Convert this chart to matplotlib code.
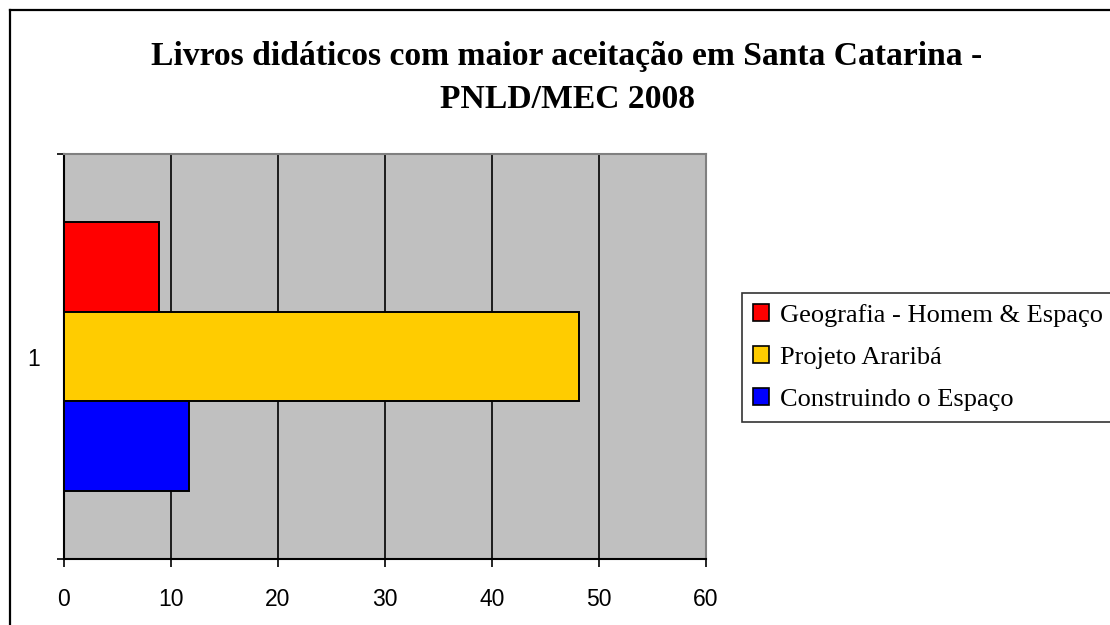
import numpy as np
import matplotlib
matplotlib.use('Agg')
import matplotlib.pyplot as plt
from matplotlib.lines import Line2D
from matplotlib.patches import Patch

# data
series = ['Geografia - Homem & Espaço', 'Projeto Araribá', 'Construindo o Espaço']
values = [8.9, 48.1, 11.7]
colors = ['#FF0000', '#FFCC00', '#0000FF']
categories = ['1']
xticks = [0, 10, 20, 30, 40, 50, 60]
title = 'Livros didáticos com maior aceitação em Santa Catarina -\nPNLD/MEC 2008'

W, H = 1110, 625
fig = plt.figure(figsize=(W / 100, H / 100), dpi=100)
fig.patch.set_facecolor('white')

# chart area border (left + top visible, rest cut off)
fig.add_artist(Line2D([10 / W, 10 / W], [0, 1 - 10 / H], color='k', lw=1.6, transform=fig.transFigure))
fig.add_artist(Line2D([10 / W, 1], [1 - 10 / H, 1 - 10 / H], color='k', lw=1.6, transform=fig.transFigure))

ax = fig.add_axes([64 / W, (H - 559) / H, (706 - 64) / W, (559 - 154) / H])
ax.set_facecolor('#C0C0C0')

bh = 0.222
offs = [bh, 0, -bh]
for v, c, o, name in zip(values, colors, offs, series):
    ax.barh(1 + o, v, height=bh, color=c, edgecolor='k', lw=1.4, zorder=3, label=name)

ax.set_xlim(0, 60)
ax.set_ylim(0.5, 1.5)
ax.set_xticks(xticks)
ax.set_xticklabels([str(t) for t in xticks], family='Liberation Sans', fontsize=16.5)
ax.set_yticks([1])
ax.set_yticklabels(categories, family='Liberation Sans', fontsize=16.5)
ax.set_yticks([0.5, 1.5], minor=True)
ax.tick_params(axis='y', which='major', length=0, pad=17)
ax.tick_params(axis='y', which='minor', length=5, width=1.2, direction='out')
ax.tick_params(axis='x', which='major', length=6, width=1.2, direction='out', pad=15)
ax.grid(axis='x', color='k', lw=1.2, zorder=1)
ax.set_axisbelow(True)

for s in ['top', 'right']:
    ax.spines[s].set_color('#808080')
    ax.spines[s].set_linewidth(1.5)
for s in ['left', 'bottom']:
    ax.spines[s].set_color('k')
    ax.spines[s].set_linewidth(1.5)

fig.text(567 / W, 1 - 78 / H, title, ha='center', va='center', family='Liberation Serif',
         fontweight='bold', fontsize=24.2, linespacing=1.5)

handles = [Patch(facecolor=c, edgecolor='k', lw=1.2) for c in colors]
leg = fig.legend(handles, series, loc='upper left', bbox_to_anchor=(742 / W, 1 - 293 / H),
                 prop={'family': 'Liberation Serif', 'size': 19}, frameon=True, fancybox=False,
                 handlelength=0.62, handleheight=0.62, handletextpad=0.4, borderpad=0.42,
                 labelspacing=0.72, borderaxespad=0)
leg.get_frame().set_edgecolor('k')
leg.get_frame().set_linewidth(1.2)

fig.savefig('out.png', dpi=100)
